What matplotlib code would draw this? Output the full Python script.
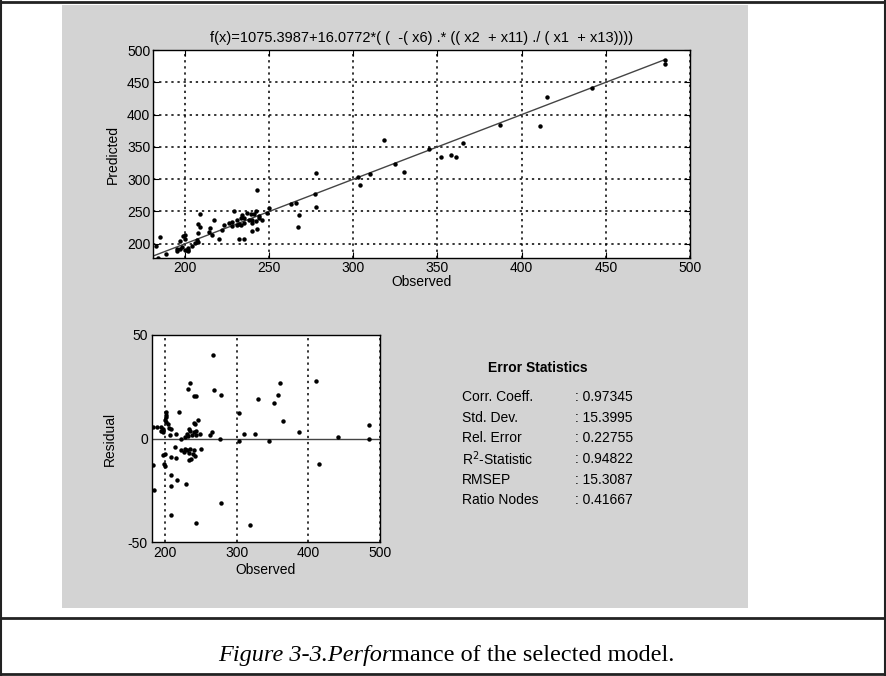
import numpy as np
import matplotlib
matplotlib.use("Agg")
import matplotlib.pyplot as plt
from matplotlib.lines import Line2D
from matplotlib.patches import Rectangle

plt.rcParams['font.family'] = ['Liberation Sans', 'DejaVu Sans']
plt.rcParams['axes.unicode_minus'] = False

# observed / predicted / residual (observed - predicted)
observed = [267, 235, 232, 268, 240, 243, 278, 304, 330, 352, 358, 361, 365, 387,
            411, 442, 485, 485, 220, 202, 202, 201, 246, 240, 242, 200, 202, 204,
            184, 189, 195, 197, 206, 208, 233, 235, 240, 244, 231, 238, 244, 249,
            266, 263, 216, 207, 198, 195, 310, 325, 345, 303, 277, 228, 232, 222,
            214, 223, 228, 231, 235, 241, 226, 233, 239, 250, 197, 200, 208, 215,
            242, 234, 237, 199, 200, 183, 415, 209, 217, 208, 229, 185, 278, 209,
            243, 318]
predicted = [226.5, 208, 208, 244.5, 219.5, 222.5, 257, 291.5, 311, 335, 337, 334,
             356.5, 384, 383, 441.5, 478.5, 485, 207, 189, 190.5, 190.5, 237, 232.5,
             235, 191, 194, 197, 178.5, 183.5, 189.5, 192.5, 201, 203.5, 228.5,
             231.5, 237, 240.5, 229, 236.5, 242.5, 247, 263, 261.5, 214, 205.5, 195,
             191.5, 308, 323, 346, 304, 277, 227.5, 231, 222,
             218, 228.5, 233, 236.5, 240, 246.5, 232.5, 240, 246.5, 255, 205, 207.5,
             217, 224.5, 250.5, 244.5, 247, 211.5, 213.5, 196, 427.5, 226.5, 237,
             231, 251, 210, 309, 246, 284, 360]
residual = [40.5, 27, 24, 23.5, 20.5, 20.5, 21, 12.5, 19, 17, 21, 27, 8.5, 3,
            28, 0.5, 6.5, 0, 13, 13, 11.5, 10.5, 9, 7.5, 7, 9, 8, 7,
            5.5, 5.5, 5.5, 4.5, 5, 4.5, 4.5, 3.5, 3, 3.5, 2, 1.5, 1.5, 2,
            3, 1.5, 2, 1.5, 3, 3.5, 2, 2, -1, -1, 0, 0.5, 1, 0,
            -4, -5.5, -5, -5.5, -5, -5.5, -6.5, -7, -7.5, -5, -8, -7.5, -9, -9.5,
            -8.5, -10.5, -10, -12.5, -13.5, -13, -12.5, -17.5, -20, -23, -22, -25,
            -31, -37, -41, -42]

formula = "f(x)=1075.3987+16.0772*( (  -( x6) .* (( x2  + x11) ./ ( x1  + x13))))"
stat_names = ["Corr. Coeff.", "Std. Dev.", "Rel. Error", "R$^2$-Statistic", "RMSEP", "Ratio Nodes"]
stat_values = ["0.97345", "15.3995", "0.22755", "0.94822", "15.3087", "0.41667"]

W, H = 886, 676
fig = plt.figure(figsize=(W / 100, H / 100), dpi=100)
fig.patch.set_facecolor('white')

def fx(px):
    return px / W

def fy(py):
    return 1 - py / H

# gray panel behind the plots
fig.add_artist(Rectangle((fx(62), fy(608)), fx(748) - fx(62), fy(5) - fy(608),
                         transform=fig.transFigure, facecolor='#d3d3d3', edgecolor='none', zorder=0))
# page frame lines
for (x0, y0, x1, y1, lw) in [(0, 2, W, 2, 2.0), (1, 0, 1, H, 1.5), (W - 1, 0, W - 1, H, 1.5),
                             (0, 618, W, 618, 2.0), (0, 674, W, 674, 2.0)]:
    fig.add_artist(Line2D([fx(x0), fx(x1)], [fy(y0), fy(y1)], transform=fig.transFigure,
                          color='#222222', lw=lw, zorder=1))

fs = 10
dots = dict(color='black', linestyle=(0, (1.5, 2.5)), linewidth=1.1)

# ---- top: predicted vs observed ----
ax1 = fig.add_axes([fx(153), fy(258), fx(690) - fx(153), fy(50) - fy(258)])
ax1.set_xlim(181, 500)
ax1.set_ylim(178, 500)
ax1.set_xticks(np.arange(200, 501, 50))
ax1.set_yticks(np.arange(200, 501, 50))
ax1.grid(True, **dots)
ax1.plot([181, max(observed)], [181, max(observed)], color='#444444', lw=1.0, zorder=2)
ax1.plot(observed, predicted, 'o', color='black', ms=3.2, mew=0, zorder=3)
ax1.tick_params(direction='in', top=True, right=True, labelsize=fs, length=4, width=0.8, pad=2)
ax1.set_xlabel("Observed", fontsize=fs, labelpad=0)
ax1.set_ylabel("Predicted", fontsize=fs, labelpad=5)
ax1.set_title(formula, fontsize=10.5, pad=6)
for s in ax1.spines.values():
    s.set_linewidth(1.0)

# ---- bottom: residuals ----
ax2 = fig.add_axes([fx(152), fy(542), fx(380) - fx(152), fy(335) - fy(542)])
ax2.set_xlim(182, 500)
ax2.set_ylim(-50, 50)
ax2.set_xticks([200, 300, 400, 500])
ax2.set_yticks([-50, 0, 50])
ax2.grid(True, axis='x', **dots)
ax2.axhline(0, color='#444444', lw=1.0, zorder=2)
ax2.plot(observed, residual, 'o', color='black', ms=3.2, mew=0, zorder=3)
ax2.tick_params(direction='in', top=False, right=False, labelsize=fs, length=0, pad=3)
ax2.set_xlabel("Observed", fontsize=fs, labelpad=2)
ax2.set_ylabel("Residual", fontsize=fs, labelpad=8)
for s in ax2.spines.values():
    s.set_linewidth(1.0)

# ---- error statistics ----
fig.text(fx(488), fy(368), "Error Statistics", fontsize=fs, fontweight='bold', va='center')
for i, (name, val) in enumerate(zip(stat_names, stat_values)):
    y = 397 + i * 20.7
    fig.text(fx(462), fy(y), name, fontsize=fs, va='center')
    fig.text(fx(575), fy(y), ": " + val, fontsize=fs, va='center')

# ---- caption ----
fig.canvas.draw()
r = fig.canvas.get_renderer()
t1 = fig.text(0, fy(661), "Figure 3-3.Perfor", family='Liberation Serif', style='italic',
              fontsize=17.5, va='baseline')
t2 = fig.text(0, fy(661), "mance of the selected model.", family='Liberation Serif',
              fontsize=17.5, va='baseline')
w1 = t1.get_window_extent(r).width
w2 = t2.get_window_extent(r).width
x_start = 446 - (w1 + w2) / 2
t1.set_x(fx(x_start))
t2.set_x(fx(x_start + w1))

fig.savefig("out.png", dpi=100)
